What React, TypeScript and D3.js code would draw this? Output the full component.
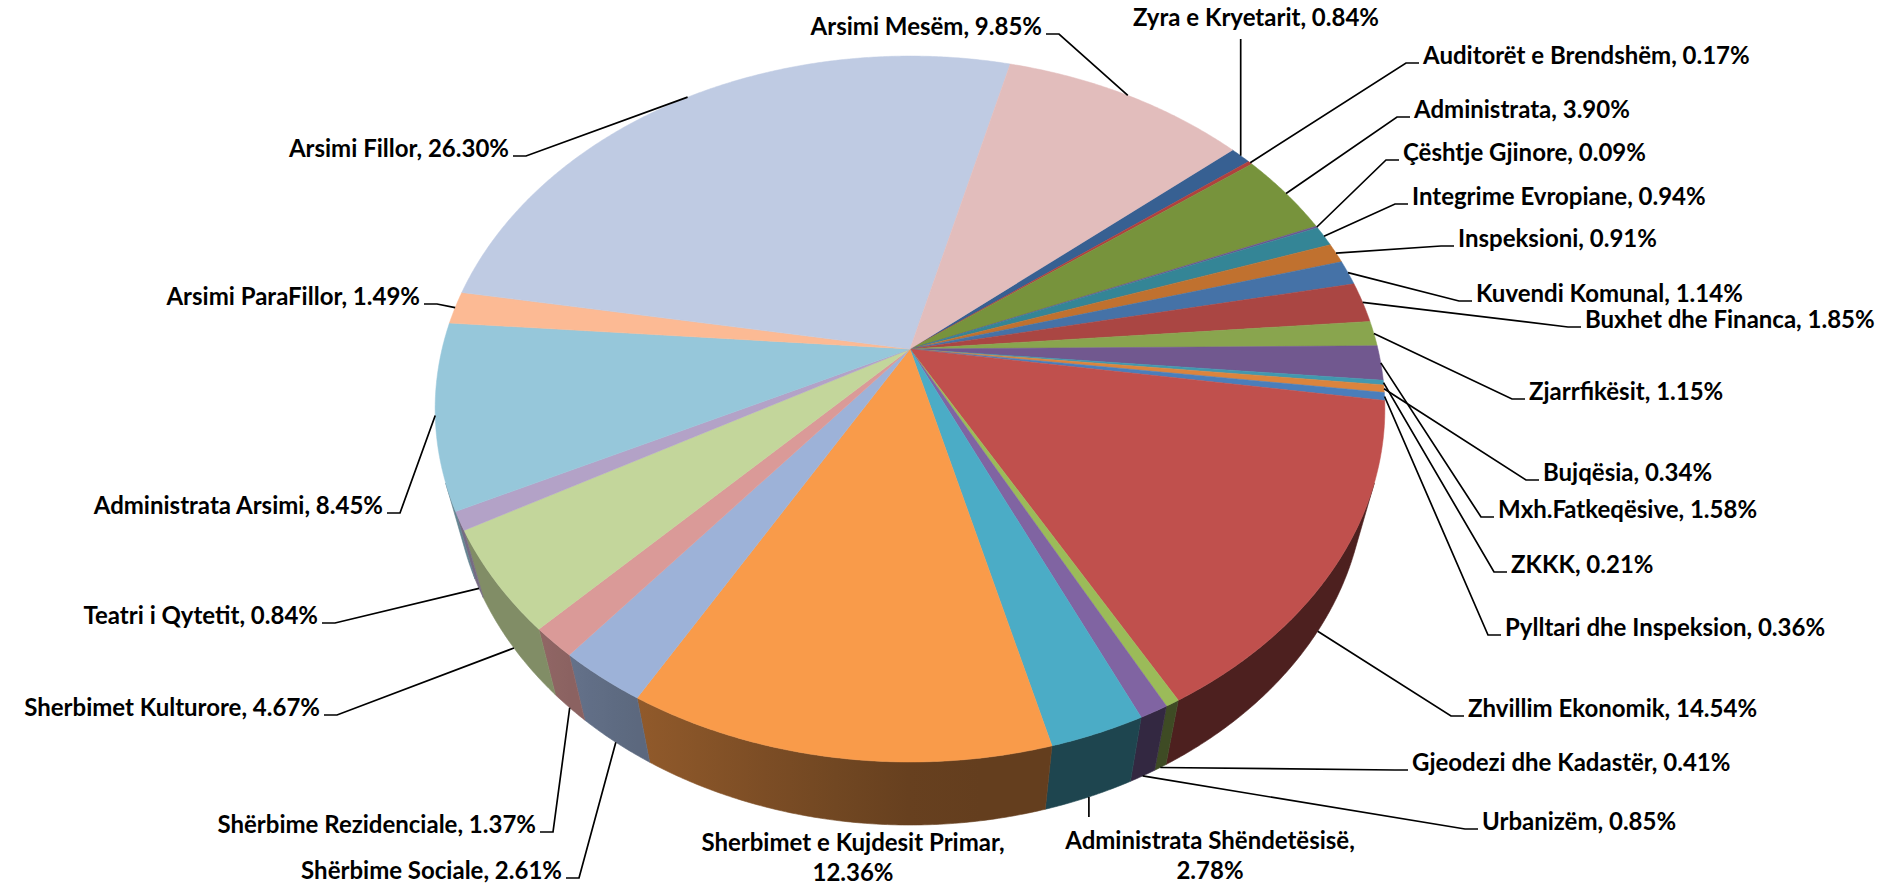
import React from 'react';
import * as d3 from 'd3';

// ---------------- data (clockwise, Excel data order) ----------------
const categories: string[] = [
  'Zyra e Kryetarit', 'Auditorët e Brendshëm', 'Administrata', 'Çështje Gjinore',
  'Integrime Evropiane', 'Inspeksioni', 'Kuvendi Komunal', 'Buxhet dhe Financa',
  'Zjarrfikësit', 'Mxh.Fatkeqësive', 'ZKKK', 'Bujqësia', 'Pylltari dhe Inspeksion',
  'Zhvillim Ekonomik', 'Gjeodezi dhe Kadastër', 'Urbanizëm', 'Administrata Shëndetësisë',
  'Sherbimet e Kujdesit Primar', 'Shërbime Sociale', 'Shërbime Rezidenciale',
  'Sherbimet Kulturore', 'Teatri i Qytetit', 'Administrata Arsimi', 'Arsimi ParaFillor',
  'Arsimi Fillor', 'Arsimi Mesëm',
];
const shares: number[] = [
  0.84, 0.17, 3.90, 0.09, 0.94, 0.91, 1.14, 1.85, 1.15, 1.58, 0.21, 0.34, 0.36,
  14.54, 0.41, 0.85, 2.78, 12.36, 2.61, 1.37, 4.67, 0.84, 8.45, 1.49, 26.30, 9.85,
];

// ---------------- styles ----------------
const sliceColors: string[] = [
  '#376092', '#B0413E', '#77933C', '#6B5891', '#348596', '#C0712F', '#4572A7', '#AA4643',
  '#89A54E', '#71588F', '#4198AF', '#DB843D', '#4A7EBB', '#C0504D', '#9BBB59', '#8064A2',
  '#4BACC6', '#F99B4A', '#9DB2D8', '#DA9A98', '#C3D69B', '#B3A2C7', '#96C7DA', '#FCBA94',
  '#BFCBE3', '#E2BDBC',
];

// label layout: x, baseline y, mode (L: elbow left of text, R: elbow right of text,
// B: vertical line to label bottom, T: vertical line to label top, N: no line)
type Mode = 'L' | 'R' | 'B' | 'T' | 'N';
const labelLayout: [number, number, Mode][] = [
  [1256, 26, 'B'], [1423, 64, 'L'], [1414, 118, 'L'], [1403, 161, 'L'],
  [1412, 205, 'L'], [1458, 247, 'L'], [1476, 302, 'L'], [1585, 328, 'L'],
  [1529, 400, 'L'], [1498, 518, 'L'], [1511, 573, 'L'], [1543, 481, 'L'],
  [1505, 636, 'L'], [1468, 717, 'L'], [1412, 771, 'L'], [1482, 830, 'L'],
  [1210, 849, 'T'], [853, 851, 'N'], [562, 879, 'R'], [536, 833, 'R'],
  [320, 716, 'R'], [318, 624, 'R'], [383, 514, 'R'], [420, 305, 'R'],
  [509, 157, 'R'], [1042, 35, 'R'],
];

const W = 1900;
const H = 887;
const FONT = "Lato, 'Open Sans', sans-serif";
const FONT_SIZE = 24;

// perspective 3D-pie projection
const CX = 910;
const CY = 349;
const FOC = 1874;
const RR = 0.2497; // radius / camera distance
const HH = 0.0564; // thickness / camera distance
const SIN_A = 0.7325;
const COS_A = 0.681;
const START = (49.9 * Math.PI) / 180;

function proj(phi: number, bottom: boolean): [number, number] {
  const u = Math.sin(phi);
  const v = -Math.cos(phi);
  const h = bottom ? HH : 0;
  const den = 1 + h * SIN_A - RR * v * COS_A;
  return [CX + (FOC * RR * u) / den, CY + (FOC * (h * COS_A + RR * v * SIN_A)) / den];
}

function arcPoints(a0: number, a1: number, bottom: boolean): [number, number][] {
  const step = (0.4 * Math.PI) / 180;
  const n = Math.max(1, Math.ceil((a1 - a0) / step));
  const pts: [number, number][] = [];
  for (let i = 0; i <= n; i++) pts.push(proj(a0 + ((a1 - a0) * i) / n, bottom));
  return pts;
}

function shade(color: string, phi: number): string {
  const deg = ((phi * 180) / Math.PI) % 360;
  const t = Math.max(0, Math.min(1, (deg - 178) / 45));
  const f = 0.4 + 0.26 * t;
  const c = d3.rgb(color);
  return d3.rgb(c.r * f, c.g * f, c.b * f).formatHex();
}

const line = d3.line<[number, number]>();

type Wall = {
  key: string;
  d: string;
  x1: number;
  x2: number;
  stops: { offset: number; color: string }[];
  solid: string | null;
};

export default function App() {
  const pie = d3
    .pie<number>()
    .sort(null)
    .value((d) => d)
    .startAngle(START)
    .endAngle(START + 2 * Math.PI);
  const arcs = pie(shares);

  const visThreshold = RR / COS_A;
  const vis0 = Math.acos(-visThreshold);
  const vis1 = 2 * Math.PI - vis0;

  const walls: Wall[] = [];
  arcs.forEach((a, i) => {
    for (const off of [0, -2 * Math.PI, 2 * Math.PI]) {
      const s = Math.max(a.startAngle + off, vis0);
      const e = Math.min(a.endAngle + off, vis1);
      if (e <= s) continue;
      const top = arcPoints(s, e, false);
      const bot = arcPoints(s, e, true).reverse();
      const d = line(top.concat(bot)) + 'Z';
      const x1 = proj(s, false)[0];
      const x2 = proj(e, false)[0];
      const stops: { offset: number; color: string }[] = [];
      let solid: string | null = null;
      if (Math.abs(x2 - x1) < 2) {
        solid = shade(sliceColors[i], (s + e) / 2);
      } else {
        const n = 6;
        for (let k = 0; k <= n; k++) {
          const p = s + ((e - s) * k) / n;
          const x = proj(p, false)[0];
          stops.push({ offset: (x - x1) / (x2 - x1), color: shade(sliceColors[i], p) });
        }
      }
      walls.push({ key: `w${i}_${off}`, d, x1, x2, stops, solid });
    }
  });

  const tops = arcs.map((a, i) => {
    const pts: [number, number][] = [[CX, CY], ...arcPoints(a.startAngle, a.endAngle, false)];
    return { d: line(pts) + 'Z', fill: sliceColors[i] };
  });

  const labels = arcs.map((a, i) => {
    const mid = (a.startAngle + a.endAngle) / 2;
    const v = -Math.cos(mid);
    const anchor = proj(mid, v > 0.3);
    const [lx, ly, mode] = labelLayout[i];
    const text = `${categories[i]}, ${shares[i].toFixed(2)}%`;
    let path: string | null = null;
    const ey = ly - 1;
    if (mode === 'L') {
      path = line([anchor, [lx - 17, ey], [lx - 4, ey]]);
    } else if (mode === 'R') {
      path = line([anchor, [lx + 17, ey], [lx + 4, ey]]);
    } else if (mode === 'B') {
      path = line([anchor, [anchor[0], ly + 13]]);
    } else if (mode === 'T') {
      path = line([anchor, [anchor[0], ly - 32]]);
    }
    const twoLine = mode === 'T' || mode === 'N';
    return { i, lx, ly, mode, text, path, twoLine };
  });

  return (
    <svg
      width={W}
      height={H}
      viewBox={`0 0 ${W} ${H}`}
      style={{ position: 'absolute', left: 0, top: 0, background: '#fff' }}
    >
      <defs>
        {walls.map((w) =>
          w.solid ? null : (
            <linearGradient
              key={w.key}
              id={`g_${w.key}`}
              gradientUnits="userSpaceOnUse"
              x1={w.x1}
              y1={0}
              x2={w.x2}
              y2={0}
            >
              {w.stops.map((s, k) => (
                <stop key={k} offset={Math.max(0, Math.min(1, s.offset))} stopColor={s.color} />
              ))}
            </linearGradient>
          )
        )}
      </defs>
      <rect x={0} y={0} width={W} height={H} fill="#fff" />
      <g>
        {walls.map((w) => {
          const paint = w.solid ? w.solid : `url(#g_${w.key})`;
          return <path key={w.key} d={w.d} fill={paint} stroke={paint} strokeWidth={0.6} />;
        })}
      </g>
      <g>
        {tops.map((t, i) => (
          <path key={i} d={t.d} fill={t.fill} stroke={t.fill} strokeWidth={0.5} strokeLinejoin="round" />
        ))}
      </g>
      <g fill="none" stroke="#000" strokeWidth={1.7}>
        {labels.map((l) => (l.path ? <path key={l.i} d={l.path} /> : null))}
      </g>
      <g fontFamily={FONT} fontWeight={700} fontSize={FONT_SIZE} fill="#000">
        {labels.map((l) => {
          if (l.twoLine) {
            const first = `${categories[l.i]},`;
            const second = `${shares[l.i].toFixed(2)}%`;
            return (
              <text key={l.i} x={l.lx} y={l.ly} textAnchor="middle">
                <tspan x={l.lx} y={l.ly}>{first}</tspan>
                <tspan x={l.lx} y={l.ly + 30}>{second}</tspan>
              </text>
            );
          }
          const anchor = l.mode === 'L' ? 'start' : l.mode === 'R' ? 'end' : 'middle';
          return (
            <text key={l.i} x={l.lx} y={l.ly} textAnchor={anchor}>
              {l.text}
            </text>
          );
        })}
      </g>
    </svg>
  );
}
